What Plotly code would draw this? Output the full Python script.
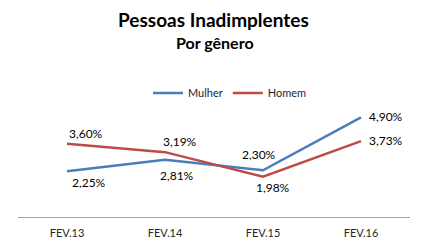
import plotly.graph_objects as go

categories = ["FEV.13", "FEV.14", "FEV.15", "FEV.16"]
mulher = [2.25, 2.81, 2.30, 4.90]
homem = [3.60, 3.19, 1.98, 3.73]
mulher_labels = ["2,25%", "2,81%", "2,30%", "4,90%"]
homem_labels = ["3,60%", "3,19%", "1,98%", "3,73%"]

# label offsets (pixels) relative to each point
mulher_shift = [(22, -11), (12, -16), (-4, 16), (25, 1)]
homem_shift = [(19, 10), (15, 11), (10, -11), (25, 1)]

BLUE = "#4A7EBB"
RED = "#BE4B48"
FONT = "Lato"

fig = go.Figure()
fig.add_trace(go.Scatter(x=categories, y=mulher, mode="lines", name="Mulher",
                         line=dict(color=BLUE, width=2.5)))
fig.add_trace(go.Scatter(x=categories, y=homem, mode="lines", name="Homem",
                         line=dict(color=RED, width=2.5)))

annotations = []
for vals, labs, shifts in [(mulher, mulher_labels, mulher_shift), (homem, homem_labels, homem_shift)]:
    for c, v, t, (dx, dy) in zip(categories, vals, labs, shifts):
        annotations.append(dict(x=c, y=v, text=t, showarrow=False, xshift=dx, yshift=dy,
                                font=dict(family=FONT, size=12, color="#000000"),
                                xanchor="center", yanchor="middle"))

annotations.append(dict(text="<b>Pessoas Inadimplentes</b>", xref="paper", yref="paper",
                        x=(213.5 - 18) / 392, y=(217 - 19) / 122, showarrow=False,
                        xanchor="center", yanchor="middle",
                        font=dict(family=FONT, size=19, color="#000000")))
annotations.append(dict(text="<b>Por gênero</b>", xref="paper", yref="paper",
                        x=(214.5 - 18) / 392, y=(217 - 42) / 122, showarrow=False,
                        xanchor="center", yanchor="middle",
                        font=dict(family=FONT, size=16, color="#000000")))

fig.update_layout(
    width=430, height=243,
    margin=dict(l=18, r=20, t=95, b=26, autoexpand=False),
    paper_bgcolor="white", plot_bgcolor="white",
    showlegend=True,
    legend=dict(orientation="h", x=(230 - 18) / 392, y=(217 - 93) / 122,
                xanchor="center", yanchor="middle",
                font=dict(family=FONT, size=11, color="#262626"),
                bgcolor="rgba(0,0,0,0)", itemwidth=30, tracegroupgap=0),
    annotations=annotations,
    xaxis=dict(type="category", range=[-0.5, 3.5], showgrid=False, zeroline=False,
               showline=True, linecolor="#A6A6A6", linewidth=1, ticks="",
               ticklabelstandoff=6, automargin=False,
               tickfont=dict(family=FONT, size=11, color="#262626"),
               fixedrange=True),
    yaxis=dict(range=[0, 6], visible=False, fixedrange=True),
)

fig.write_html("out.html")
